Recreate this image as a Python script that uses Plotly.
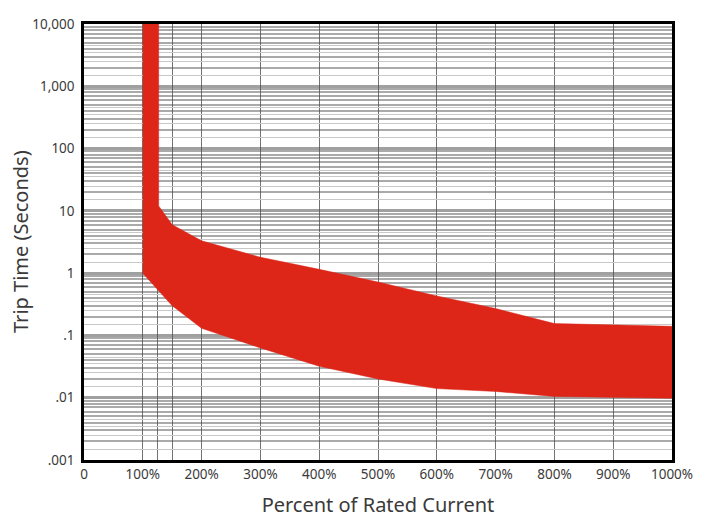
import plotly.graph_objects as go

# Upper boundary of trip-time band (percent of rated current, seconds)
upper_x = [100, 127, 127, 150, 200, 300, 400, 500, 600, 700, 800, 1000]
upper_y = [10000, 10000, 12, 6, 3.3, 1.8, 1.15, 0.72, 0.43, 0.27, 0.155, 0.14]
# Lower boundary
lower_x = [100, 125, 150, 200, 300, 400, 500, 600, 700, 800, 1000]
lower_y = [1.0, 0.55, 0.30, 0.13, 0.063, 0.032, 0.020, 0.014, 0.0126, 0.0105, 0.0098]

x_tickvals = [0, 100, 200, 300, 400, 500, 600, 700, 800, 900, 1000]
x_ticktext = ["0", "100%", "200%", "300%", "400%", "500%", "600%", "700%", "800%", "900%", "1000%"]
y_tickvals = [0.001, 0.01, 0.1, 1, 10, 100, 1000, 10000]
y_ticktext = [".001", ".01", ".1", "1", "10", "100", "1,000", "10,000"]
v_grid = [100, 125, 150, 200, 300, 400, 500, 600, 700, 800, 900]
fine_steps = [1.5, 2.5, 3.5, 4.5]

fine_grid = [m * 10.0 ** e for e in range(-3, 4) for m in fine_steps]

poly_x = upper_x + lower_x[::-1]
poly_y = upper_y + lower_y[::-1]

fig = go.Figure()
fig.add_trace(go.Scatter(
    x=poly_x, y=poly_y, mode="lines", fill="toself",
    fillcolor="#dd2518", line=dict(color="#dd2518", width=0.5),
    hoverinfo="skip", showlegend=False,
))
# hidden trace to activate overlay axes for extra grid lines
fig.add_trace(go.Scatter(x=[0, 1000], y=[1, 1], xaxis="x2", yaxis="y2", mode="none",
                         showlegend=False, hoverinfo="skip"))

FONT = "Noto Sans"
TXT = "#3a3a3a"
fig.update_layout(
    width=710, height=525,
    margin=dict(l=76, r=46, t=7, b=73),
    paper_bgcolor="white", plot_bgcolor="white",
    font=dict(family=FONT, color=TXT),
    xaxis=dict(
        range=[0, 1000], tickvals=x_tickvals, ticktext=x_ticktext,
        showgrid=False, zeroline=False,
        showline=True, linecolor="black", linewidth=2.5, mirror=True,
        ticks="", tickfont=dict(size=13.5, color=TXT),
        title=dict(text="Percent of Rated Current", font=dict(size=20, color=TXT), standoff=17),
    ),
    xaxis2=dict(
        range=[0, 1000], overlaying="x", tickvals=v_grid, showticklabels=False,
        showgrid=True, gridcolor="rgba(80,80,80,0.8)", gridwidth=1.3, zeroline=False,
        layer="below traces",
    ),
    yaxis=dict(
        type="log", range=[-3, 4], tickvals=y_tickvals, ticktext=y_ticktext,
        showgrid=True, gridcolor="#a0a0a0", gridwidth=3,
        minor=dict(dtick="D1", showgrid=True, gridcolor="#aaaaaa", gridwidth=1.5),
        zeroline=False, showline=True, linecolor="black", linewidth=2.5, mirror=True,
        ticks="", tickfont=dict(size=13.5, color=TXT), ticklabelstandoff=4,
    ),
    yaxis2=dict(
        type="log", range=[-3, 4], overlaying="y", tickvals=fine_grid, showticklabels=False,
        showgrid=True, gridcolor="#c8c8c8", gridwidth=1, zeroline=False,
        layer="below traces",
    ),
    annotations=[dict(
        text="Trip Time (Seconds)", textangle=-90, xref="paper", yref="paper",
        x=0, y=0.5, xanchor="center", yanchor="middle", xshift=-64, showarrow=False,
        font=dict(size=20, color=TXT),
    )],
)
fig.write_html("out.html")
